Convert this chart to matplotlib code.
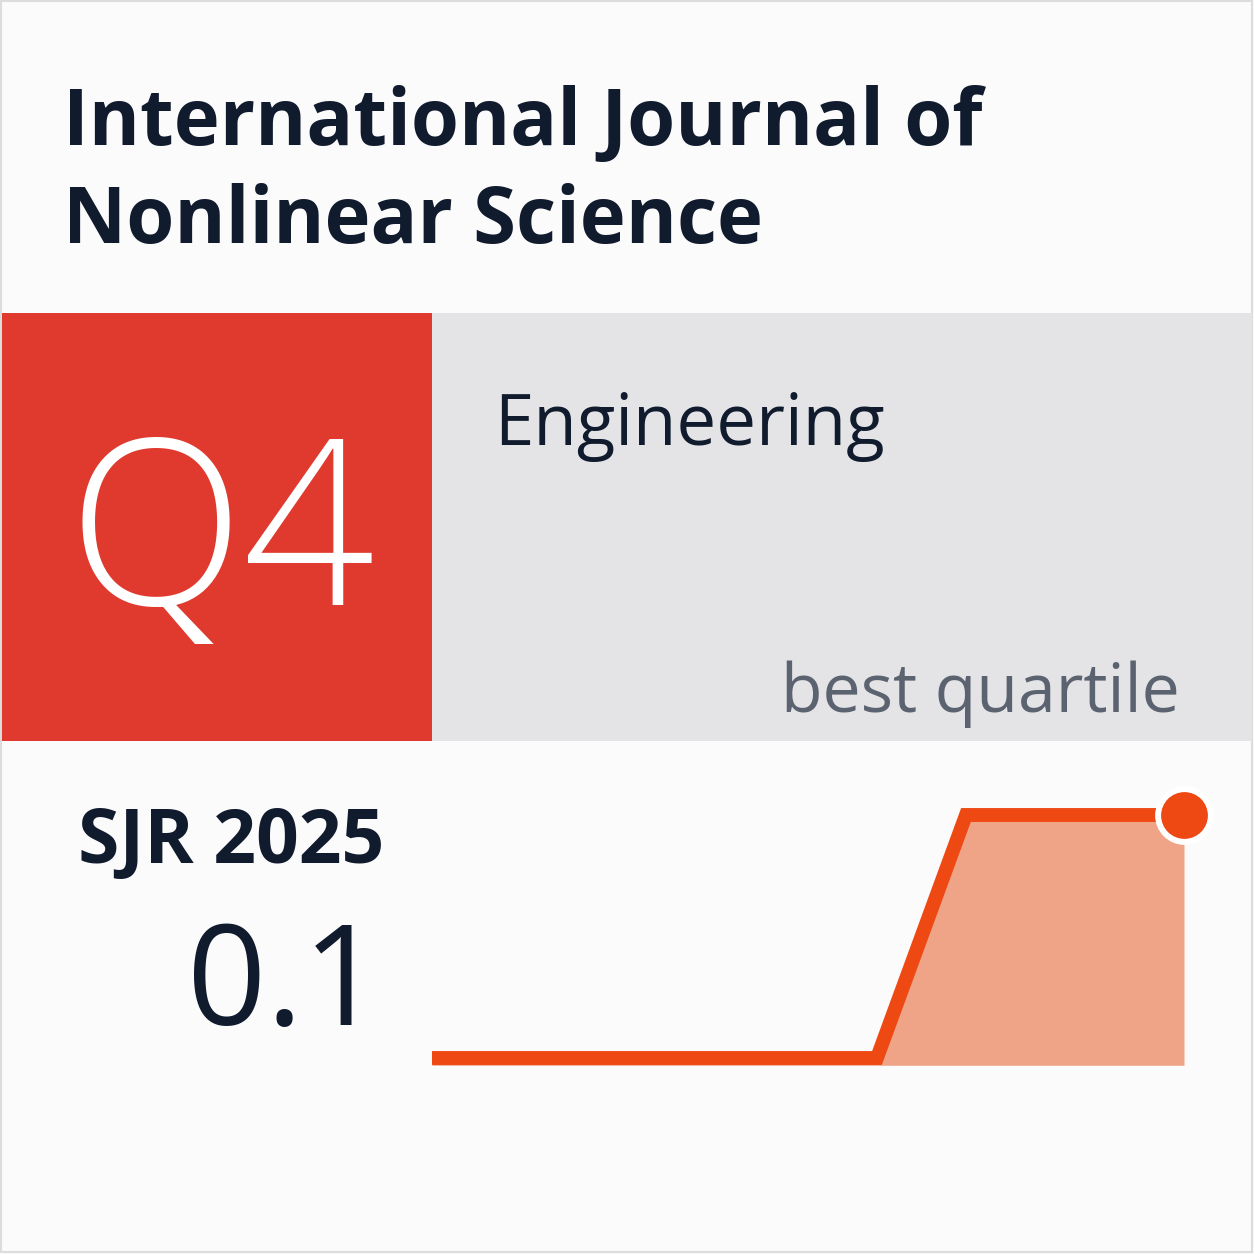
import matplotlib.pyplot as plt
from matplotlib.patches import Rectangle

# badge content
journal_lines = ["International Journal of", "Nonlinear Science"]
quartile = "Q4"
category = "Engineering"
quartile_note = "best quartile"
sjr_label = "SJR 2025"
sjr_value = "0.1"

# sparkline data (relative time position, SJR value)
trend_x = [0, 5, 6, 8.45]
trend_y = [0.0, 0.0, 0.1, 0.1]

W = H = 1254
dark = "#111b2e"
red = "#e03a2f"
grey_panel = "#e4e4e6"
line_col = "#ee4813"
fill_col = "#f0a487"

fig = plt.figure(figsize=(W / 100, H / 100), dpi=100)
fig.patch.set_facecolor("#fbfbfb")

# overlay in pixel coordinates
ax = fig.add_axes([0, 0, 1, 1])
ax.set_xlim(0, W)
ax.set_ylim(H, 0)
ax.axis("off")

ax.add_patch(Rectangle((1, 1), W - 3, H - 3, fill=False, ec="#dcdcdc", lw=1.5))
ax.add_patch(Rectangle((2, 313), 430, 428, fc=red, ec="none"))
ax.add_patch(Rectangle((432, 313), 820, 428, fc=grey_panel, ec="none"))

ax.text(63, 145, journal_lines[0], family="Open Sans", weight="bold",
        fontsize=56, color=dark, va="baseline")
ax.text(63, 243, journal_lines[1], family="Open Sans", weight="bold",
        fontsize=56, color=dark, va="baseline")

ax.text(68, 605, quartile, family="Open Sans", weight="light",
        fontsize=166, color="white", va="baseline")
ax.text(494, 445, category, family="Open Sans", fontsize=51,
        color=dark, va="baseline")
ax.text(1180, 712, quartile_note, family="Open Sans", fontsize=49,
        color="#5b6270", va="baseline", ha="right")

ax.text(78, 863, sjr_label, family="Open Sans", weight="bold",
        fontsize=54, color=dark, va="baseline")
ax.text(382, 1025, sjr_value, family="Open Sans", fontsize=100,
        color=dark, va="baseline", ha="right")

# sparkline axes
x0, x1 = 432 / W, 1184 / W
y0 = 1 - 1058 / H
h = (1058 - 815) / H
sp = fig.add_axes([x0, y0, x1 - x0, h])
sp.set_xlim(trend_x[0], trend_x[-1])
sp.set_ylim(0, 0.1)
sp.axis("off")
sp.fill_between(trend_x, trend_y, -0.003, color=fill_col, lw=0, clip_on=False)
sp.plot(trend_x, trend_y, color=line_col, lw=10, solid_joinstyle="miter",
        solid_capstyle="butt", clip_on=False)
sp.plot(trend_x[-1], trend_y[-1], "o", ms=38, mfc=line_col, mec="white",
        mew=4.3, clip_on=False)

fig.savefig("out.png", dpi=100, facecolor=fig.get_facecolor())
